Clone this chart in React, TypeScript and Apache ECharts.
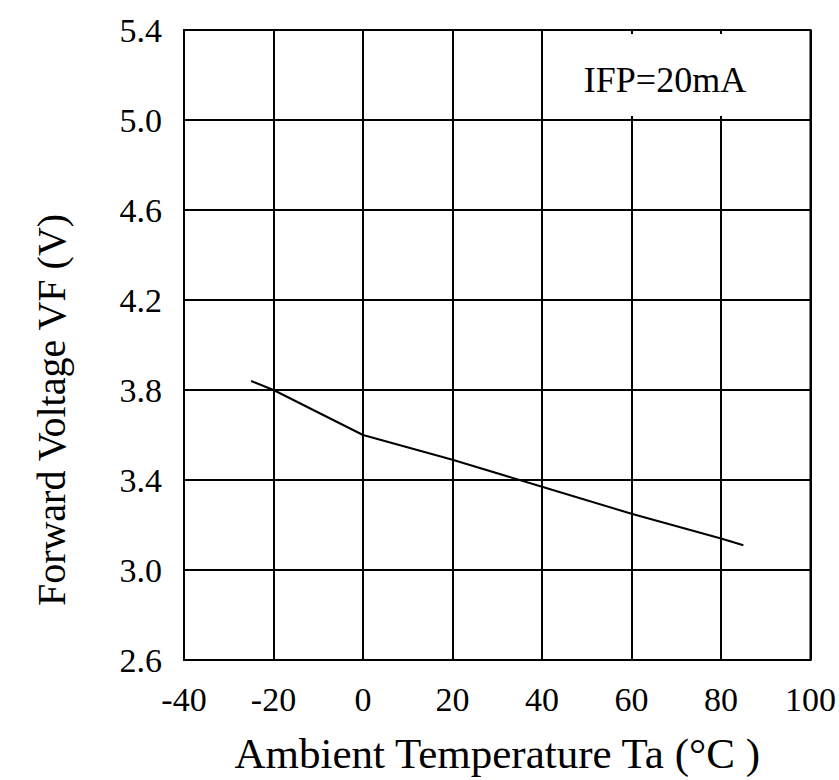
import { useEffect, useRef } from "react";
import * as echarts from "echarts";

// ---- data ----
const temperatures = [-25, -20, 0, 20, 40, 60, 80, 85];
const forwardVoltage = [3.84, 3.8, 3.6, 3.49, 3.37, 3.25, 3.14, 3.11];
const xMin = -40;
const xMax = 100;
const xStep = 20;
const yMin = 2.6;
const yMax = 5.4;
const yStep = 0.4;
const xAxisName = "Ambient Temperature Ta (°C )";
const yAxisName = "Forward Voltage VF (V)";
const annotationText = "IFP=20mA";

const FONT = "'Liberation Serif', 'Times New Roman', serif";

export default function App() {
  const ref = useRef<HTMLDivElement>(null);

  useEffect(() => {
    if (!ref.current) return;
    const chart = echarts.init(ref.current, undefined, { renderer: "svg" });
    const ySpan = Math.round((yMax - yMin) * 10) / 10;
    const lineStyle = { color: "#000", width: 2 };
    chart.setOption({
      animation: false,
      backgroundColor: "#fff",
      grid: {
        left: 184,
        right: 27,
        top: 30,
        bottom: 120,
        show: true,
        borderColor: "#000",
        borderWidth: 2,
        backgroundColor: "transparent",
      },
      xAxis: {
        type: "value",
        min: xMin,
        max: xMax,
        interval: xStep,
        name: xAxisName,
        nameLocation: "middle",
        nameGap: 72,
        nameTextStyle: { color: "#000", fontFamily: FONT, fontSize: 43 },
        axisLine: { show: true, lineStyle },
        axisTick: { show: false },
        splitLine: { show: true, lineStyle },
        axisLabel: {
          color: "#000",
          fontFamily: FONT,
          fontSize: 34,
          margin: 22,
        },
      },
      yAxis: {
        type: "value",
        min: 0,
        max: ySpan,
        interval: yStep,
        axisLine: { show: true, lineStyle },
        axisTick: { show: false },
        splitLine: { show: true, lineStyle },
        axisLabel: {
          color: "#000",
          fontFamily: FONT,
          fontSize: 34,
          margin: 22,
          formatter: (v: number) => (v + yMin).toFixed(1),
        },
      },
      series: [
        {
          type: "line",
          data: temperatures.map((t, i) => [t, forwardVoltage[i] - yMin]),
          showSymbol: false,
          symbol: "none",
          lineStyle: { color: "#000", width: 2 },
          z: 5,
        },
      ],
      graphic: [
        {
          type: "rect",
          z: 10,
          shape: { x: 550, y: 34, width: 256, height: 82 },
          style: { fill: "#fff" },
        },
        {
          type: "text",
          z: 11,
          x: 665,
          y: 80,
          style: {
            text: annotationText,
            fill: "#000",
            font: `36px ${FONT}`,
            align: "center",
            verticalAlign: "middle",
          },
        },
        {
          type: "text",
          z: 11,
          x: 51,
          y: 410,
          rotation: Math.PI / 2,
          style: {
            text: yAxisName,
            fill: "#000",
            font: `40px ${FONT}`,
            align: "center",
            verticalAlign: "middle",
          },
        },
      ],
    });
    return () => chart.dispose();
  }, []);

  return (
    <div
      ref={ref}
      style={{ position: "absolute", left: 0, top: 0, width: 839, height: 780 }}
    />
  );
}
